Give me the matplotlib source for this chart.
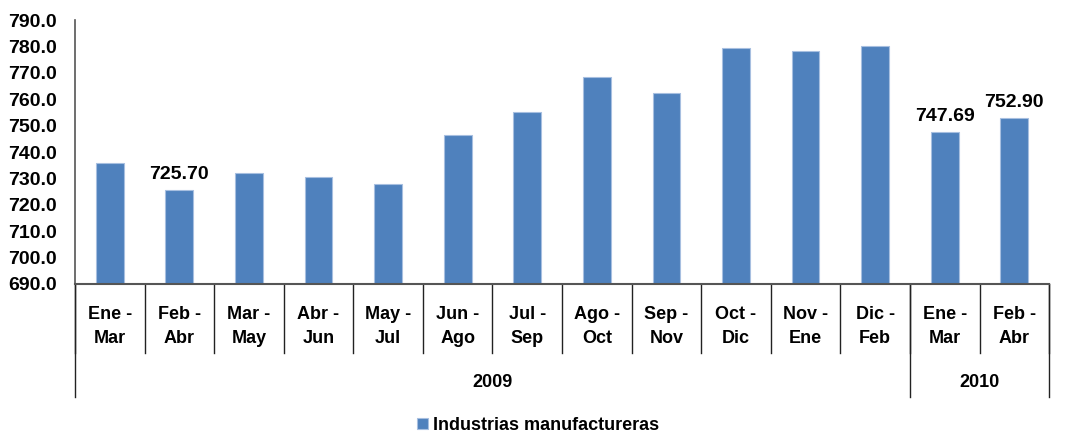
import matplotlib
matplotlib.use("Agg")
import matplotlib.pyplot as plt
import numpy as np

plt.rcParams['font.family'] = ['Liberation Sans', 'DejaVu Sans']
plt.rcParams['font.weight'] = 'bold'

# data
meses = ["Ene -\nMar", "Feb -\nAbr", "Mar -\nMay", "Abr -\nJun", "May -\nJul",
         "Jun -\nAgo", "Jul -\nSep", "Ago -\nOct", "Sep -\nNov", "Oct -\nDic",
         "Nov -\nEne", "Dic -\nFeb", "Ene -\nMar", "Feb -\nAbr"]
valores = [735.7, 725.70, 731.9, 730.4, 727.8, 746.6, 755.0, 768.4, 762.2,
           779.3, 778.3, 780.2, 747.69, 752.90]
etiquetas = {1: "725.70", 12: "747.69", 13: "752.90"}
anios = ["2009", "2010"]
n_por_anio = [12, 2]

azul = "#4F81BD"

fig = plt.figure(figsize=(10.76, 4.38), dpi=100)
ax = fig.add_axes([0.0697, 0.3516, 0.9053, 0.6024])

x = np.arange(len(valores))
ax.bar(x, np.array(valores) - 690, bottom=690, width=0.4, color=azul,
       edgecolor="#a7bfe0", linewidth=0.8, label="Industrias manufactureras")

for i, txt in etiquetas.items():
    ax.annotate(txt, (x[i], valores[i]), xytext=(0, 5), textcoords="offset points",
                ha="center", va="bottom", fontsize=14, fontweight="bold")

ax.set_xlim(-0.5, len(valores) - 0.5)
ax.set_ylim(690, 790)
ax.set_yticks(np.arange(690, 791, 10))
ax.set_yticklabels([f"{v:.1f}" for v in np.arange(690, 791, 10)], fontsize=14)
ax.tick_params(axis="y", length=0, pad=13)
ax.set_xticks([])

for s in ["top", "right"]:
    ax.spines[s].set_visible(False)
ax.spines["left"].set_color("#555555")
ax.spines["bottom"].set_color("#555555")
ax.spines["left"].set_linewidth(1.2)
ax.spines["bottom"].set_linewidth(1.5)

tr = ax.get_xaxis_transform()
# month labels and dividers
for i, m in enumerate(meses):
    ax.text(x[i], -0.085, m, transform=tr, ha="center", va="top", fontsize=13,
            fontweight="bold", linespacing=1.5)
for b in np.arange(-0.5, len(valores), 1.0):
    ax.plot([b, b], [0, -0.26], transform=tr, color="#222222", lw=1.0, clip_on=False)

# year labels and dividers
start = 0
bounds = [-0.5]
for anio, n in zip(anios, n_por_anio):
    ax.text(start + (n - 1) / 2, -0.375, anio, transform=tr, ha="center", va="center",
            fontsize=13, fontweight="bold")
    start += n
    bounds.append(start - 0.5)
for b in bounds:
    ax.plot([b, b], [0, -0.43], transform=tr, color="#222222", lw=1.0, clip_on=False)

fig.legend(loc="lower center", bbox_to_anchor=(0.5, -0.028), frameon=False,
           fontsize=13, handlelength=0.6, handleheight=0.6, handletextpad=0.3)

fig.savefig("out.png", dpi=100)
